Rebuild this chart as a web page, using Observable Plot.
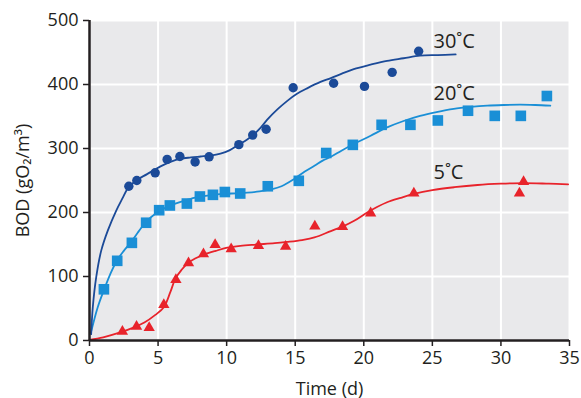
<!DOCTYPE html>
<html>
<head>
<meta charset="utf-8">
<script src="https://cdn.jsdelivr.net/npm/d3@7"></script>
<script src="https://cdn.jsdelivr.net/npm/@observablehq/plot@0.6"></script>
<style>
  html, body { margin: 0; padding: 0; background: #ffffff; }
  #chart { width: 581px; height: 398px; overflow: hidden; }
</style>
</head>
<body>
<div id="chart"></div>
<script>
// ---- Measured points (time in days, BOD in gO2/m3) ----
const t30   = [2.87, 3.45, 4.79, 5.66, 6.59, 7.7, 8.72, 10.89, 11.9, 12.88, 14.85, 17.8, 20.05, 22.07, 24.0];
const bod30 = [241, 250, 262, 283, 287.5, 279, 287, 306, 321, 330, 395, 402, 397, 419, 452];

const t20   = [1.05, 2.02, 3.09, 4.13, 5.08, 5.86, 7.1, 8.05, 9.0, 9.87, 10.99, 13.0, 15.26, 17.26, 19.2, 21.3, 23.4, 25.4, 27.6, 29.55, 31.45, 33.35];
const bod20 = [80, 124.5, 152.6, 184, 203.6, 211, 214, 225, 227.6, 232, 229.7, 241, 249.5, 293, 305.7, 337, 337, 343.8, 359, 351, 351, 382];

const t5    = [2.4, 3.43, 4.35, 5.42, 6.3, 7.22, 8.31, 9.16, 10.33, 12.32, 14.3, 16.43, 18.45, 20.5, 23.65, 31.35, 31.65];
const bod5  = [14, 22, 20, 56, 95, 121, 135, 149.5, 143, 148, 147, 178.6, 177.6, 199, 230, 230, 248];

// ---- Fitted curves ----
const c30t = [0.12, 0.24, 0.49, 0.85, 1.34, 1.95, 2.4, 2.8, 3.4, 4.2, 5.18, 5.9, 6.64, 7.4, 8.1, 8.8, 9.55, 10.2, 10.89, 11.5, 11.98, 12.5, 12.96, 13.7, 14.4, 15.1, 15.87, 16.84, 17.6, 18.4, 19.27, 20.5, 21.7, 22.9, 24.1, 25.4, 26.7];
const c30y = [10, 52, 99, 140, 172, 203, 222, 238, 250, 260, 272, 279, 284, 286, 287.5, 289, 292, 297, 306, 314, 322, 333, 345, 361, 374, 385, 394, 404, 410, 417, 424, 431, 437, 441, 445, 446, 447];

const c20t = [0.1, 0.6, 1.09, 1.5, 2.0, 2.5, 3.04, 3.5, 4.0, 4.5, 5.08, 5.6, 6.15, 7.0, 7.85, 8.8, 9.8, 10.7, 11.5, 12.4, 13.2, 14.0, 14.9, 15.7, 16.4, 17.0, 17.6, 18.4, 19.27, 20.5, 21.7, 22.9, 24.1, 25.3, 26.56, 27.8, 29.0, 30.2, 31.4, 32.5, 33.6];
const c20y = [12, 52, 81, 103, 125, 140, 154, 168, 182, 193, 202, 208, 213, 219, 224, 227, 229, 230, 231, 233, 236, 241, 252, 264, 273, 281, 287, 297, 307, 320, 333, 343, 351, 357, 362, 365, 367, 368, 368.5, 368, 367];

const c5t = [0, 1, 2.3, 3.2, 4.0, 4.8, 5.42, 5.9, 6.27, 6.7, 7.12, 7.7, 8.33, 9.2, 10.04, 11, 12.2, 13.5, 14.4, 15.5, 16.4, 17.6, 18.45, 19.3, 20.25, 21.0, 21.7, 22.7, 23.65, 25, 26.6, 28.3, 30, 31.7, 33.5, 34.9];
const c5y = [1, 5, 13, 20, 28, 40, 52, 76, 97, 110, 120, 128, 134, 140, 145, 148, 150, 152, 154, 157, 161, 171, 178, 187, 200, 209, 216, 223, 229, 235, 239.5, 243, 245, 246, 245, 244];

// ---- Series labels and ticks ----
const seriesNames = ["30˚C", "20˚C", "5˚C"];
const labelX = [25.08, 25.08, 25.08];
const labelY = [467, 386, 262];
const xTicks = [0, 5, 10, 15, 20, 25, 30, 35];
const yTicks = [0, 100, 200, 300, 400, 500];

const colors = ["#1b4a98", "#1a8fd6", "#e8232b"];
const ink = "#231f20";

const zip = (xs, ys) => xs.map((x, i) => ({x, y: ys[i]}));
const pts30 = zip(t30, bod30), pts20 = zip(t20, bod20), pts5 = zip(t5, bod5);
const crv30 = zip(c30t, c30y), crv20 = zip(c20t, c20y), crv5 = zip(c5t, c5y);
const labels = seriesNames.map((name, i) => ({name, x: labelX[i], y: labelY[i], c: colors[i]}));

const chart = Plot.plot({
  width: 581,
  height: 398,
  marginTop: 20,
  marginRight: 12,
  marginBottom: 58,
  marginLeft: 89,
  style: {fontFamily: "'Open Sans', sans-serif", fontSize: "18px", color: ink, background: "#ffffff"},
  x: {domain: [0, 35]},
  y: {domain: [0, 500]},
  marks: [
    Plot.frame({fill: "#e9e9eb", stroke: null}),
    Plot.gridX(xTicks, {stroke: "white", strokeOpacity: 1, strokeWidth: 2}),
    Plot.gridY(yTicks, {stroke: "white", strokeOpacity: 1, strokeWidth: 2}),
    Plot.line(crv5, {x: "x", y: "y", stroke: colors[2], strokeWidth: 1.8, curve: "catmull-rom"}),
    Plot.line(crv20, {x: "x", y: "y", stroke: colors[1], strokeWidth: 1.8, curve: "catmull-rom"}),
    Plot.line(crv30, {x: "x", y: "y", stroke: colors[0], strokeWidth: 1.8, curve: "catmull-rom"}),
    Plot.dot(pts5, {x: "x", y: "y", symbol: "triangle", r: 4.2, fill: colors[2], stroke: null}),
    Plot.dot(pts20, {x: "x", y: "y", symbol: "square", r: 6, fill: colors[1], stroke: null}),
    Plot.dot(pts30, {x: "x", y: "y", symbol: "circle", r: 4.7, fill: colors[0], stroke: null}),
    Plot.ruleX([0], {stroke: ink, strokeWidth: 2.5}),
    Plot.ruleY([0], {stroke: ink, strokeWidth: 2.5}),
    Plot.axisX(xTicks, {tickSize: 6, tickPadding: 5, stroke: ink, strokeWidth: 1.5, fill: ink, fontSize: 18,
      label: "Time (d)", labelAnchor: "center", labelOffset: 54, labelArrow: "none"}),
    Plot.axisY(yTicks, {tickSize: 6, tickPadding: 5, stroke: ink, strokeWidth: 1.5, fill: ink, fontSize: 18,
      label: "BOD (gO₂/m³)", labelAnchor: "center", labelOffset: 73, labelArrow: "none"}),
    Plot.text(labels, {x: "x", y: "y", text: "name", textAnchor: "start", lineAnchor: "middle", fontSize: 20, fill: ink})
  ]
});
document.getElementById("chart").appendChild(chart);
</script>
</body>
</html>
